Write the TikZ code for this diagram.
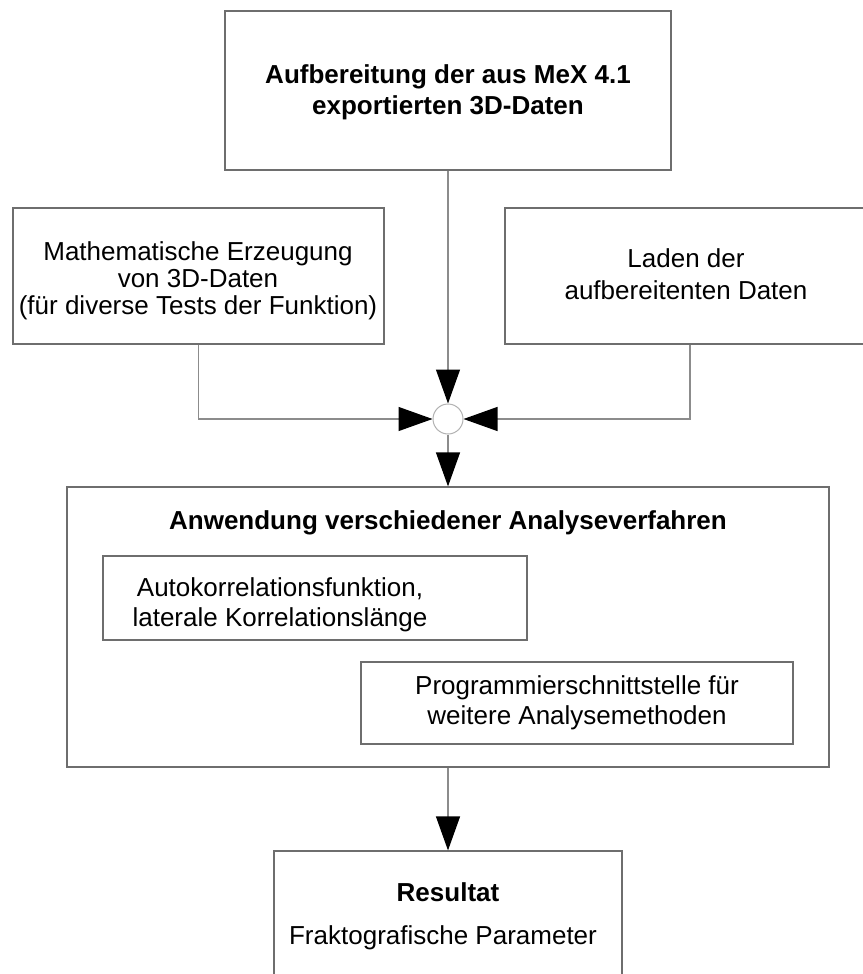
\documentclass[tikz,border=0pt]{standalone}
\usepackage{fontspec}
\setmainfont{Liberation Sans}
\usetikzlibrary{arrows.meta}
\definecolor{boxgray}{HTML}{6E6E6E}
\definecolor{linegray}{HTML}{8C8C8C}
\begin{document}
\begin{tikzpicture}[x=1pt,y=-1pt,
  box/.style={draw=boxgray, line width=1.2pt, inner sep=0pt},
  txt/.style={align=center, inner sep=0pt, font=\fontsize{26}{30}\selectfont},
  btxt/.style={align=center, inner sep=0pt, font=\fontsize{26}{31}\selectfont\bfseries},
  conn/.style={draw=linegray, line width=1.2pt},
  arr/.style={conn, -{Triangle[length=34pt,width=24pt,color=black]}},
  junction/.style={circle, draw=gray!60, line width=1pt, fill=white, minimum size=30pt, inner sep=0pt}
]
\useasboundingbox (0,0) rectangle (862,974);

% top box
\node[box, minimum width=446pt, minimum height=159pt] (top) at (448,90.5) {};
\node[btxt] (toptxt) at (448,92) {Aufbereitung der aus MeX 4.1\\exportierten 3D-Daten};

% left box
\node[box, minimum width=371pt, minimum height=136pt] (left) at (198.5,276) {};
\node[txt, font=\fontsize{26}{27}\selectfont] (lefttxt) at (198,281) {Mathematische Erzeugung\\von 3D-Daten\\(für diverse Tests der Funktion)};

% right box
\node[box, minimum width=370pt, minimum height=136pt] (right) at (690,276) {};
\node[txt, font=\fontsize{26}{32}\selectfont] (righttxt) at (686,274) {Laden der\\aufbereitenten Daten};

% junction
\node[junction] (c) at (448,419) {};

% big box
\node[box, minimum width=762pt, minimum height=280pt] (big) at (448,627) {};
\node[btxt] (bigtxt) at (448,523) {Anwendung verschiedener Analyseverfahren};

\node[box, minimum width=424pt, minimum height=84pt] (ak) at (315,598) {};
\node[txt] (aktxt) at (280,605) {Autokorrelationsfunktion,\\laterale Korrelationslänge};

\node[box, minimum width=432pt, minimum height=82pt] (api) at (577,703) {};
\node[txt] (apitxt) at (577,703) {Programmierschnittstelle für\\weitere Analysemethoden};

% result box
\node[box, minimum width=348pt, minimum height=149pt] (res) at (448,925.5) {};
\node[btxt] (restitle) at (448,892) {Resultat};
\node[txt] (restxt) at (443,938) {Fraktografische Parameter};

% connectors
\draw[arr] (top.south) -- (c.north);
\draw[arr] (left.south) |- (c.west);
\draw[arr] (right.south) |- (c.east);
\draw[arr] (c.south) -- (big.north);
\draw[arr] (big.south) -- (res.north);
\end{tikzpicture}
\end{document}
